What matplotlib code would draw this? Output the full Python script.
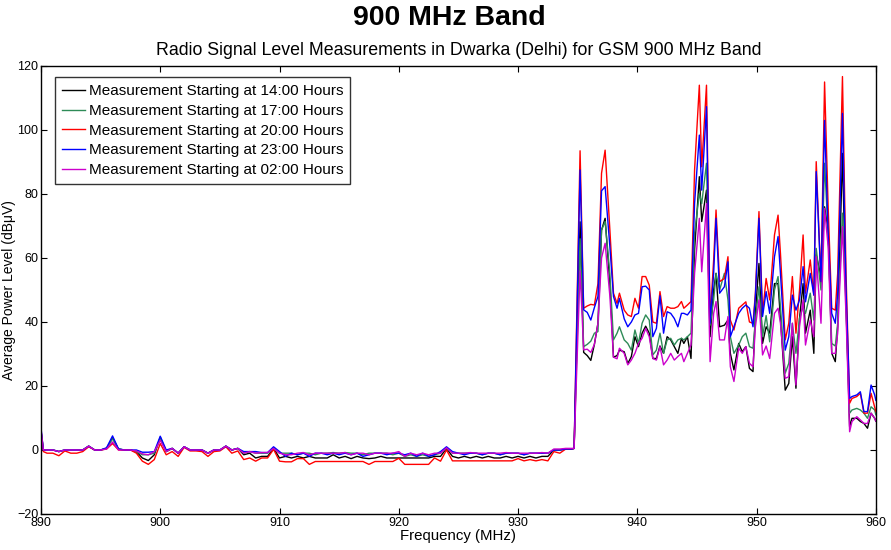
import numpy as np
import matplotlib
matplotlib.use("Agg")
import matplotlib.pyplot as plt

plt.rcParams['font.family'] = ['Liberation Sans', 'DejaVu Sans']

# ---------------- data ----------------
# Quiet part of the band (890 - 934.5 MHz)
freq_low = [890.0, 890.2] + list(np.arange(890.5, 934.51, 0.5))

low_1400 = [6, 0, 0, 0, -0.5, 0, 0, 0, 0, 1.2,
            0, 0, 0.5, 3.8, 0.3, 0, 0, -0.5, -2.5, -3.3,
            -1.5, 4, -0.5, 0.5, -1, 1, 0, 0, 0, -1,
            0, 0, 1.2, 0, 0.5, -1.5, -1, -2.5, -2, -2,
            0.5, -2.5, -2, -2.5, -2, -2.5, -2, -2.5, -2.5, -2.5,
            -1.5, -2.5, -2, -2.7, -2, -2.5, -2.7, -2.5, -2, -2.5,
            -2.5, -2.5, -2.5, -2.5, -2.5, -2.5, -2.5, -2, -2, 0.5,
            -2, -2.5, -2, -2.5, -2, -2.5, -2, -2.5, -2.5, -2,
            -2.5, -2, -2.5, -2, -2.5, -2, -2, 0, 0, 0.3,
            0.3]
low_1700 = [6, 0, 0, 0, -0.5, 0, 0, 0, 0, 1.2,
            0, 0, 0.5, 3.5, 0.3, 0, 0, -0.5, -1.5, -1.5,
            -1, 3.5, -0.5, 0.5, -1, 1, 0, 0, 0, -1,
            0, 0, 1.2, 0, 0.5, -1, -0.5, -1, -1, -1,
            0.5, -1, -1, -1, -1.5, -1, -1, -1.5, -1, -1,
            -0.8, -1, -0.8, -1, -1, -1.5, -1, -1, -1, -1,
            -1.5, -1, -2, -1.5, -2, -1.5, -2, -1.5, -1, 0.7,
            -1, -1, -1, -1, -1, -1.5, -1, -1, -1.5, -1,
            -1, -1, -1.5, -1, -1, -1, -1, 0, 0, 0.3,
            0.3]
low_2000 = [5, -0.5, -1, -1, -1.8, -0.3, -1, -1, -0.5, 1,
            0, 0, 0.3, 2, 0, 0, 0, -1, -3.5, -4.5,
            -3, 2, -1.5, -0.5, -2, 0.8, -0.3, -0.3, -0.5, -2,
            -0.5, -0.3, 1, -1, -0.3, -3, -2.5, -3.5, -2.5, -2.5,
            0.2, -3.5, -3.7, -3.7, -2.7, -2.7, -4.5, -3.6, -3.6, -3.6,
            -3.6, -3.6, -3.6, -3.6, -3.6, -3.6, -4.5, -3.6, -3.6, -3.6,
            -3.6, -2.6, -4.5, -4.5, -4.5, -4.5, -4.5, -2.5, -3.5, 0,
            -3.4, -3.4, -3.4, -3.4, -3.4, -3.4, -3.4, -3.4, -3.4, -3.4,
            -3.4, -2.7, -3.4, -3, -3.4, -3, -3.4, -0.5, -1, 0.3,
            0.3]
low_2300 = [7, 0, 0, 0, -0.5, 0, 0, 0, 0, 1.2,
            0, 0, 0.7, 4.4, 0.3, 0, 0, 0, -0.7, -0.7,
            -0.5, 4.3, 0, 0.5, -1, 1, 0, 0, 0, -1,
            0, 0, 1.2, 0, 0.5, -0.5, -0.5, -0.5, -0.8, -0.8,
            1, -0.5, -2, -1, -1.5, -1, -2, -1, -1, -1.5,
            -1, -1.5, -1, -1.5, -1, -2, -1.5, -1, -1, -1.5,
            -1, -1, -1.5, -1, -2, -1, -2, -1.5, -0.5, 1,
            -0.5, -1, -1.5, -1, -1, -1.5, -1, -1, -1.5, -1,
            -1, -1, -1.5, -1, -1, -1, -1, 0, 0, 0.3,
            0.3]
low_0200 = [6.5, 0, 0, 0, -0.5, 0, 0, 0, 0, 1.2,
            0, 0, 0.3, 2.5, 0, 0, 0, -0.3, -1.2, -1.5,
            -0.5, 3, -0.5, 0.5, -1, 1, 0, 0, 0, -1,
            0, 0, 1.2, 0, 0.5, -1, -0.5, -1, -0.8, -0.8,
            0.5, -1, -1.5, -1.5, -1, -0.8, -1.5, -1, -1, -1,
            -1, -1, -0.8, -1.5, -1, -1, -1.5, -1, -1, -1,
            -1, -0.5, -2, -1, -1.5, -1, -1.5, -1, -1, 0.7,
            -1, -1, -1, -0.8, -1, -1, -1, -1, -1, -0.8,
            -1, -1, -1, -1, -1, -0.8, -1, 0.3, 0.3, 0.5,
            0.5]

# Active part of the band (934.7 - 960 MHz)
freq_high = [934.7, 935.2, 935.5, 935.8, 936.1, 936.4, 936.7, 937.0, 937.3, 937.7,
             938.0, 938.3, 938.5, 938.9, 939.2, 939.5, 939.8, 940.1, 940.4, 940.7,
             941.0, 941.3, 941.6, 941.9, 942.2, 942.5, 942.8, 943.1, 943.4, 943.7,
             943.9, 944.2, 944.5, 944.8, 945.2, 945.4, 945.8, 946.1, 946.4, 946.6,
             946.9, 947.3, 947.6, 947.8, 948.1, 948.5, 948.8, 949.1, 949.4, 949.7,
             949.9, 950.2, 950.5, 950.8, 951.1, 951.5, 951.8, 952.0, 952.4, 952.7,
             953.0, 953.3, 953.6, 953.9, 954.1, 954.5, 954.8, 955.0, 955.4, 955.7,
             956.0, 956.3, 956.6, 956.8, 957.2, 957.5, 957.8, 958.0, 958.4, 958.7,
             959.0, 959.3, 959.6, 959.9, 960.0]

high_1400 = [0.5, 71.3, 30.5, 29.5, 28, 33, 39.6, 68.7, 72.4, 52,
             29, 29.5, 31.2, 30.7, 27, 29.2, 35.4, 32.3, 36.5, 38.7,
             36.5, 28.6, 28.6, 32.5, 30.2, 35.4, 34.4, 32.3, 30.2, 34.9,
             33.3, 35.4, 28.6, 62.5, 85.4, 71.4, 81.2, 35.4, 50, 55.2,
             38.5, 39, 40.6, 30.2, 25, 33.3, 30.7, 32.3, 25.5, 24.5,
             42.7, 58.3, 33.3, 38.5, 36.5, 52, 52, 41.1, 18.7, 20.8,
             35.4, 19.3, 41.1, 52, 36.5, 43.7, 30.2, 61, 54.2, 76,
             68.7, 30.2, 27.6, 38.5, 92.7, 45, 7.3, 9.9, 9.9, 8.9,
             8.3, 6.8, 11.5, 9.9, 9]
high_1700 = [0.5, 66, 32.3, 33, 34, 36.5, 37, 68.7, 71.4, 55,
             34.4, 36.5, 38.5, 34.4, 33.3, 31.2, 37.5, 33.3, 39.6, 42.2,
             40.6, 29.7, 31.2, 36.5, 30.2, 34.4, 34.9, 32.8, 34.4, 34.9,
             34.4, 35.4, 36.5, 67.7, 80.2, 77, 89.6, 39, 46.9, 55.2,
             50, 55.2, 46.9, 35.4, 30.2, 32.8, 35.4, 36.5, 32.3, 31.8,
             40.6, 51, 35.4, 42, 33.8, 50, 54.2, 44.8, 24, 27.1,
             39.6, 30.2, 41.1, 44.8, 42.7, 49, 40.6, 63, 50, 89.6,
             67.7, 33.3, 32.5, 39.6, 74, 45, 11.5, 12.5, 13, 12.5,
             11.5, 9.9, 13.5, 12.5, 11]
high_2000 = [0.5, 93.5, 44.3, 45, 45.5, 45.3, 52, 86.5, 93.7, 68.7,
             49, 45.8, 49, 43.7, 42.2, 41.7, 47.4, 44.3, 54.2, 54.2,
             51.5, 40, 39.6, 49.5, 41.7, 44.8, 44.3, 44.3, 44.8, 46.4,
             44.3, 45.3, 46.4, 87.5, 114, 88.5, 114, 40.6, 59.4, 75,
             52.6, 53.6, 60.4, 40.6, 37.5, 44.3, 45.3, 46.3, 40, 39.6,
             49, 74.5, 42.7, 53.6, 46.9, 67.2, 73.4, 61.5, 34.4, 39.6,
             54.2, 36.5, 50, 67.2, 49, 59.4, 48.4, 90.1, 52.6, 115,
             76, 44.3, 43.7, 55.2, 116.7, 55, 14.6, 16.1, 16.7, 17.7,
             11.5, 11.5, 17.7, 13.5, 12]
high_2300 = [0.5, 87.5, 43.8, 43, 40.6, 44.5, 48, 81, 82.3, 63.5,
             48, 44.3, 47.4, 41, 38.5, 40, 42.2, 42.7, 51, 51.2,
             50, 35.4, 38, 48.2, 36.5, 43.2, 42.7, 41.1, 38.5, 42.7,
             42.7, 42.2, 43.7, 77, 98.4, 81.2, 107.3, 39.6, 55.2, 72.4,
             49, 51, 58.8, 35.4, 38.5, 42.7, 44.3, 45.3, 44.3, 38.5,
             48, 72.4, 41.7, 49.5, 42.7, 60.4, 66.7, 55.2, 31.2, 35.4,
             48.4, 43.7, 46.9, 57.3, 46.3, 55.2, 48.4, 87, 52.6, 103,
             67.7, 42.7, 39.6, 49, 105.2, 50, 16.1, 16.7, 17.2, 18.2,
             12, 12, 20.3, 17.2, 15.5]
high_0200 = [0.5, 56, 31.3, 31.5, 30.5, 33, 39.6, 60, 64.6, 48,
             29, 28.5, 31.8, 30.2, 26.6, 28.1, 30.2, 33.3, 34.9, 38,
             35.4, 28.6, 28.1, 32.3, 26.6, 28.1, 30.2, 28.1, 29.2, 30.2,
             27.6, 30.2, 32.8, 55.2, 72.4, 55.7, 77, 27.6, 42.7, 46.4,
             34.4, 34.4, 41.7, 26, 21.4, 31.8, 30.2, 32.3, 27.1, 26,
             38.5, 46.9, 29.7, 32.5, 28.6, 42.7, 44.3, 39.6, 22.4, 22.9,
             39.6, 20.3, 38.5, 46.9, 32.8, 40.6, 35.4, 60.4, 39.6, 75.5,
             63.5, 30.2, 30.2, 36.5, 69.8, 42, 5.7, 8.9, 10.4, 9.4,
             8.3, 8.3, 11.5, 9.9, 9]

labels = ["Measurement Starting at 14:00 Hours",
          "Measurement Starting at 17:00 Hours",
          "Measurement Starting at 20:00 Hours",
          "Measurement Starting at 23:00 Hours",
          "Measurement Starting at 02:00 Hours"]
colors = ["#000000", "#2e8b57", "#ff0000", "#0000ff", "#cc00cc"]

series = [(low_1400, high_1400), (low_1700, high_1700), (low_2000, high_2000),
          (low_2300, high_2300), (low_0200, high_0200)]

x_ticks = [890, 900, 910, 920, 930, 940, 950, 960]
y_ticks = [-20, 0, 20, 40, 60, 80, 100, 120]

# ---------------- plot ----------------
fig = plt.figure(figsize=(8.91, 5.5), dpi=100)
ax = fig.add_axes([0.046, 0.0655, 0.937, 0.8145])

freq = np.array(list(freq_low) + list(freq_high))
for (lo, hi), lab, c in zip(series, labels, colors):
    assert len(lo) == len(freq_low), (lab, len(lo))
    assert len(hi) == len(freq_high), (lab, len(hi))
    ax.plot(freq, list(lo) + list(hi), color=c, lw=1.0, label=lab)

ax.set_xlim(890, 960)
ax.set_ylim(-20, 120)
ax.set_xticks(x_ticks)
ax.set_yticks(y_ticks)
ax.tick_params(direction='in', top=True, right=True, labelsize=9, length=4, pad=2)
for s in ax.spines.values():
    s.set_linewidth(1.0)

ax.set_xlabel("Frequency (MHz)", fontsize=10.8, labelpad=0)
ax.set_ylabel("Average Power Level (dB\u03bcV)", fontsize=10, labelpad=1)

fig.text(0.504, 0.967, "900 MHz Band", ha='center', va='center',
         fontsize=20.5, fontweight='bold')
ax.set_title("Radio Signal Level Measurements in Dwarka (Delhi) for GSM 900 MHz Band",
             fontsize=12.8, pad=8)

leg = ax.legend(loc='upper left', bbox_to_anchor=(0.017, 0.975), fontsize=11,
                frameon=True, fancybox=False, handlelength=1.5, handletextpad=0.25,
                borderpad=0.45, labelspacing=0.38, borderaxespad=0)
leg.get_frame().set_edgecolor('black')
leg.get_frame().set_linewidth(1.0)

fig.savefig("out.png", dpi=100)
